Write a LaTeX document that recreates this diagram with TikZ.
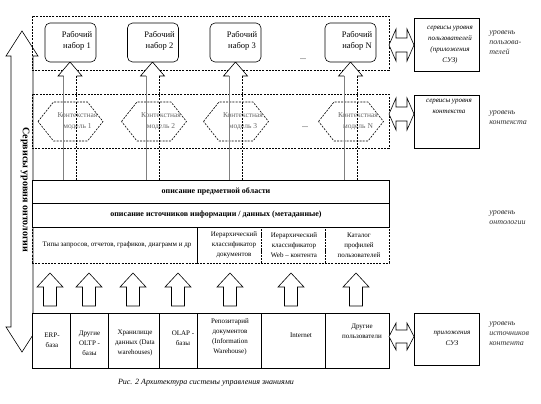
\documentclass[tikz,border=0pt]{standalone}
\usepackage{fontspec}
\setmainfont{Liberation Serif}
\usetikzlibrary{calc}
\newcommand\ColArr[2]{%
  \coordinate (#2) at (#1,62);
  \draw[gray] (#1-6.5,76) -- (#1-6.5,180);
  \draw[dsh] (#1+6.5,76) -- (#1+6.5,180);
  \draw[fill=white] (#1-6.5,76) -- (#1-12,76) -- (#2) -- (#1+12,76) -- (#1+6.5,76);
}
\newcommand\UpArr[2]{%
  \coordinate (#2) at (#1,273);
  \draw[fill=white] (#2) -- (#1+13,287) -- (#1+6.5,287) -- (#1+6.5,306) -- (#1-6.5,306) -- (#1-6.5,287) -- (#1-13,287) -- cycle;
}
\newcommand\HArr[4]{%
  \coordinate (#4) at (401.5,#1);
  \draw[fill=white] (389,#1) -- (396,#1-#3) -- (396,#1-#2) -- (407,#1-#2) -- (407,#1-#3) -- (414,#1) -- (407,#1+#3) -- (407,#1+#2) -- (396,#1+#2) -- (396,#1+#3) -- cycle;
}
\newcommand\Hexa[2]{%
  \coordinate (#2) at (#1,121.5);
  \draw[dsh,shift={(#2)}] (-32.5,0) -- (-17,-19.5) -- (17,-19.5) -- (32.5,0) -- (17,19.5) -- (-17,19.5) -- cycle;
}
\begin{document}
\begin{tikzpicture}[x=1pt,y=-1pt,line width=0.6pt,
  dsh/.style={dash pattern=on 2pt off 1.2pt},
  box/.style={draw,fill=white,inner sep=0pt},
  dbox/.style={draw,dsh,inner sep=0pt},
  wbox/.style={draw,fill=white,rounded corners=5pt,minimum width=51,minimum height=39,inner sep=0pt},
  wtxt/.style={align=center,font=\fontsize{8.5}{11.5}\selectfont,inner sep=0pt},
  htxt/.style={align=center,text=black!60,font=\fontsize{7.5}{11}\selectfont,inner sep=0pt},
  stxt/.style={align=center,font=\fontsize{7}{9.8}\selectfont,inner sep=0pt},
  itxt/.style={align=center,font=\fontsize{7}{11}\itshape\selectfont,inner sep=0pt},
  ltxt/.style={align=left,anchor=west,text=black!80,font=\fontsize{8}{10}\itshape\selectfont,inner sep=0pt},
  btxt/.style={font=\fontsize{8}{10}\bfseries\selectfont,inner sep=0pt}]
\useasboundingbox (0,0) rectangle (541,404);

% big left double arrow (ontology services)
\draw[fill=white] (22,31) coordinate (otop) -- (38,56) -- (33,56) -- (33,327) -- (38,327) -- (22,352) coordinate (obot) -- (6,327) -- (11,327) -- (11,56) -- (6,56) -- cycle;
\node[rotate=-90,font=\fontsize{10}{12}\bfseries\selectfont,inner sep=0pt] (onto) at (25,190) {Сервисы уровня онтологии};

% user level and context level dashed frames
\node[dbox,minimum width=357,minimum height=54] (ulev) at (210.5,43) {};
\node[dbox,minimum width=357,minimum height=54] (clev) at (210.5,121) {};

% context models
\Hexa{70.5}{h1}
\Hexa{154}{h2}
\Hexa{236}{h3}
\Hexa{351}{hN}
\node[htxt] (h1t) at (77.5,121) {Контекстная\\модель 1};
\node[htxt] (h2t) at (161,121) {Контекстная\\модель 2};
\node[htxt] (h3t) at (243,121) {Контекстная\\модель 3};
\node[htxt] (hNt) at (358,121) {Контекстная\\модель N};
\node[font=\fontsize{8}{10}\selectfont,inner sep=0pt] (cdots) at (305,127) {...};

% long arrows from ontology to work sets
\ColArr{70}{a1}
\ColArr{152.5}{a2}
\ColArr{235.5}{a3}
\ColArr{350.5}{aN}

% work sets
\node[wbox] (w1) at (70.5,42.5) {};
\node[wbox] (w2) at (153,42.5) {};
\node[wbox] (w3) at (235.5,42.5) {};
\node[wbox] (wN) at (350.5,42.5) {};
\node[wtxt] (w1t) at (77,41) {Рабочий\\набор 1};
\node[wtxt] (w2t) at (159.5,41) {Рабочий\\набор 2};
\node[wtxt] (w3t) at (242,41) {Рабочий\\набор 3};
\node[wtxt] (wNt) at (357,41) {Рабочий\\набор N};
\node[font=\fontsize{8}{10}\selectfont,inner sep=0pt] (udots) at (303,59) {...};

% ontology level
\node[box,minimum width=357,minimum height=23] (r1) at (210.5,191.5) {};
\node[btxt] (r1t) at (216,191.5) {описание предметной области};
\node[box,minimum width=357,minimum height=24] (r2) at (210.5,215) {};
\node[btxt] (r2t) at (216,215) {описание источников информации / данных (метаданные)};
\node[dbox,minimum width=165,minimum height=36] (c1) at (114.5,245) {};
\node[dbox,minimum width=64,minimum height=36] (c2) at (229,245) {};
\node[dbox,minimum width=64,minimum height=36] (c3) at (293,245) {};
\node[dbox,minimum width=64,minimum height=36] (c4) at (357,245) {};
\node[stxt] (c1t) at (117,245) {Типы запросов, отчетов, графиков, диаграмм и др};
\node[stxt] (c2t) at (234,245) {Иерархический\\классификатор\\документов};
\node[stxt] (c3t) at (294,245) {Иерархический\\классификатор\\Web – контента};
\node[stxt] (c4t) at (359,245) {Каталог\\профилей\\пользователей};

% arrows from sources
\UpArr{50}{u1}
\UpArr{89}{u2}
\UpArr{133}{u3}
\UpArr{178}{u4}
\UpArr{230}{u5}
\UpArr{291}{u6}
\UpArr{356}{u7}

% sources
\node[box,minimum width=38,minimum height=55] (s1) at (51,340.5) {};
\node[box,minimum width=38,minimum height=55] (s2) at (89,340.5) {};
\node[box,minimum width=51,minimum height=55] (s3) at (133.5,340.5) {};
\node[box,minimum width=38,minimum height=55] (s4) at (178,340.5) {};
\node[box,minimum width=64,minimum height=55] (s5) at (229,340.5) {};
\node[box,minimum width=64,minimum height=55] (s6) at (293,340.5) {};
\node[box,minimum width=64,minimum height=55] (s7) at (357,340.5) {};
\node[stxt] (s1t) at (52,340) {ERP-\\база};
\node[stxt] (s2t) at (89.5,343) {Другие\\OLTP -\\базы};
\node[stxt] (s3t) at (135,343) {Хранилище\\данных (Data\\warehouses)};
\node[stxt] (s4t) at (183,338) {OLAP -\\базы};
\node[stxt] (s5t) at (230,337) {Репозитарий\\документов\\(Information\\Warehouse)};
\node[stxt] (s6t) at (301,335) {Internet};
\node[stxt] (s7t) at (362,331) {Другие\\пользователи};

% service boxes and double arrows
\node[box,minimum width=65,minimum height=53] (sv1) at (446.5,44.5) {};
\node[box,minimum width=65,minimum height=53] (sv2) at (446.5,121.5) {};
\node[box,minimum width=65,minimum height=52] (sv3) at (446.5,339) {};
\node[itxt] (sv1t) at (450,45.5) {сервисы уровня\\пользователей\\(приложения\\СУЗ)};
\node[itxt] (sv2t) at (449,106.5) {сервисы уровня\\контекста};
\node[itxt] (sv3t) at (452,338) {приложения\\СУЗ};
\HArr{45}{7}{16}{d1}
\HArr{114}{7}{16}{d2}
\HArr{336.5}{6.5}{13.5}{d3}

% level labels
\node[ltxt] (l1) at (489,43) {уровень\\пользова-\\телей};
\node[ltxt] (l2) at (489,118) {уровень\\контекста};
\node[ltxt] (l3) at (489,217.5) {уровень\\онтологии};
\node[ltxt] (l4) at (489,333.5) {уровень\\источников\\контента};

% caption
\node[font=\fontsize{8}{10}\itshape\selectfont,inner sep=0pt] (cap) at (206,383) {Рис. 2 Архитектура системы управления знаниями};
\end{tikzpicture}
\end{document}
